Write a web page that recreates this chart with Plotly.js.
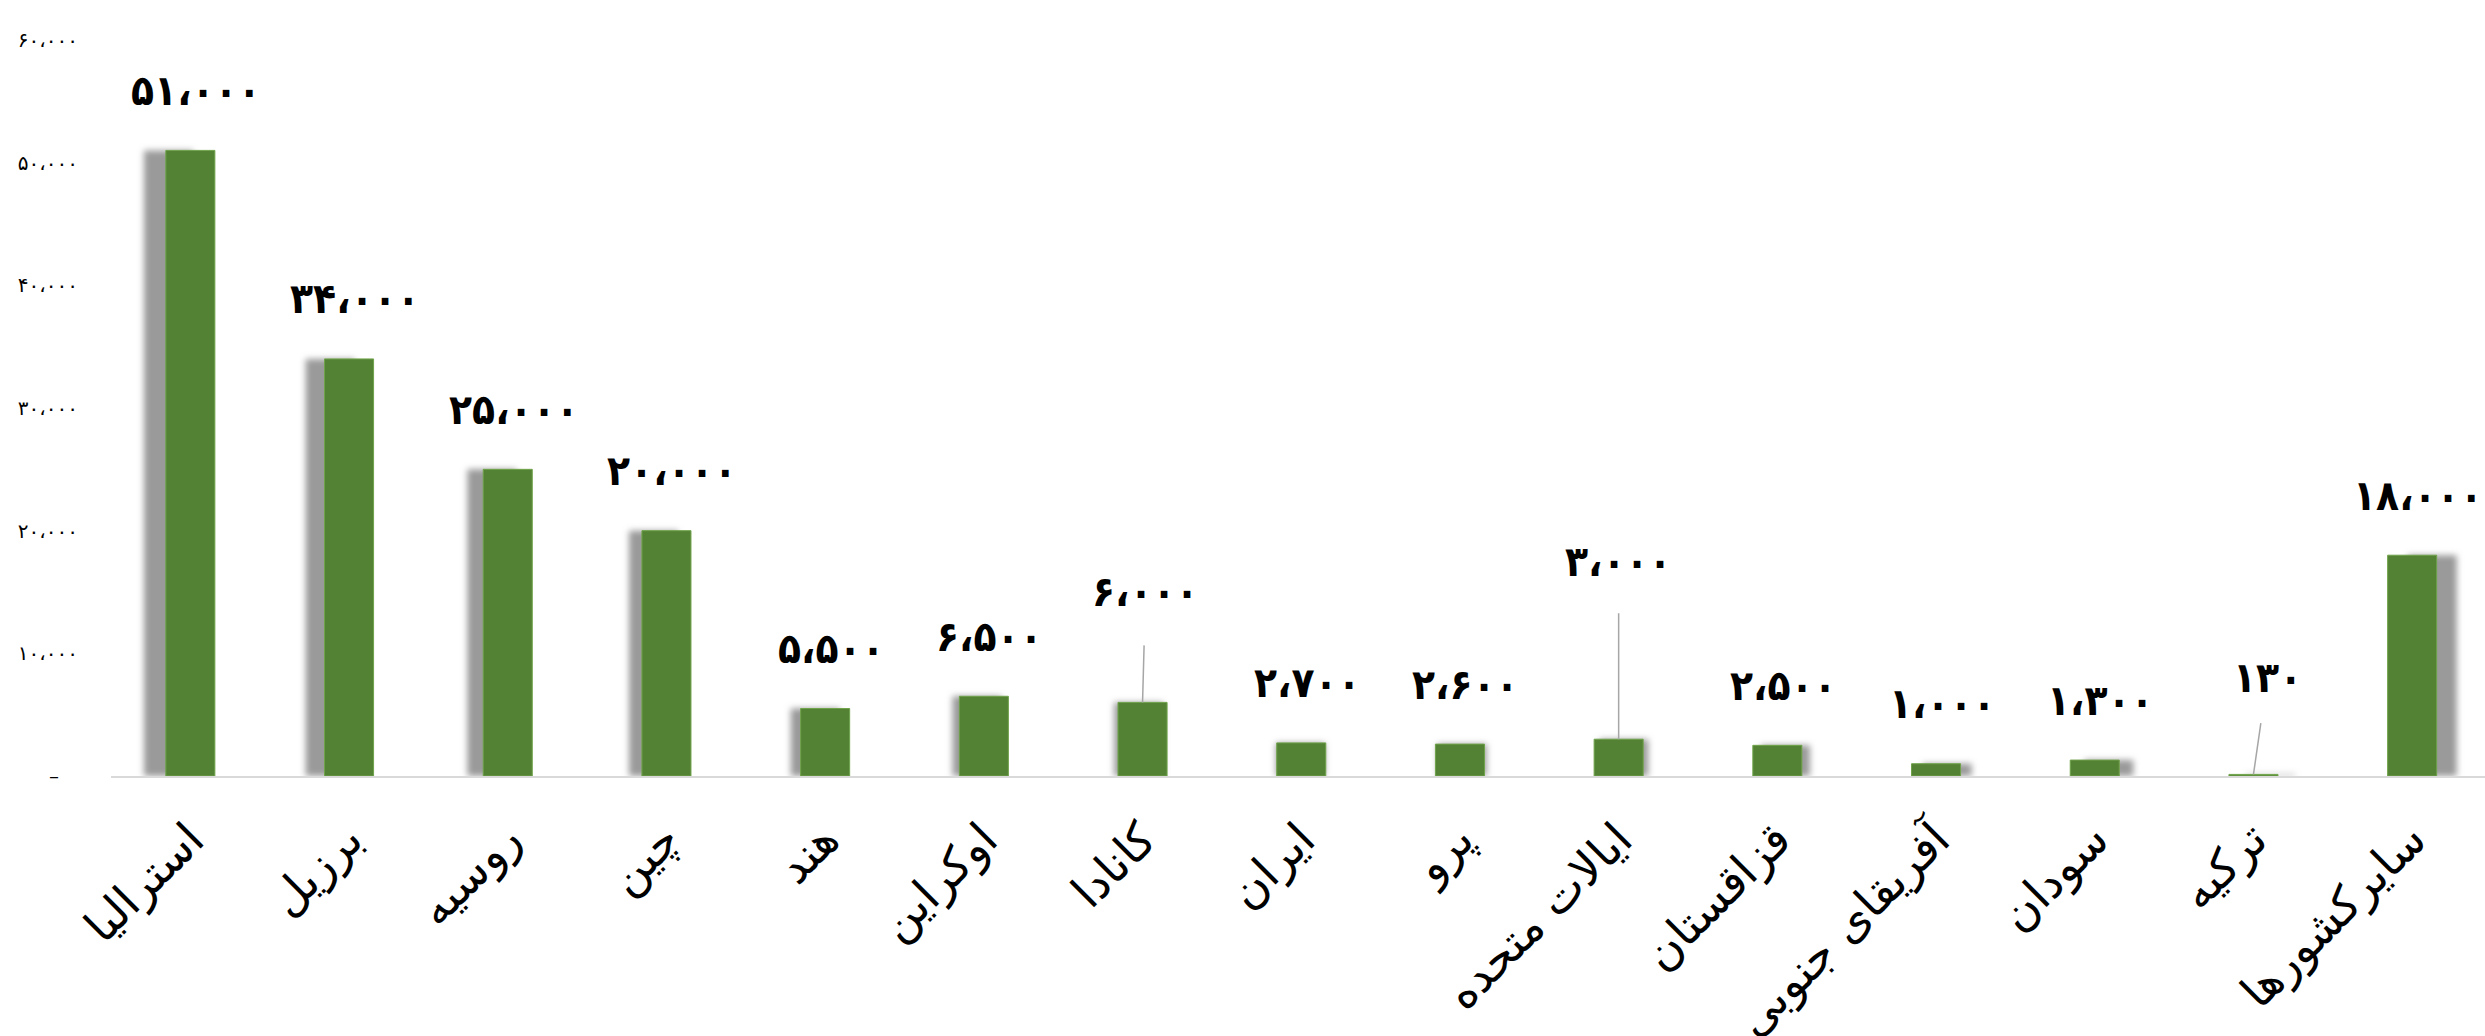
<!DOCTYPE html>
<html>
<head>
<meta charset="utf-8">
<script src="https://cdn.plot.ly/plotly-3.0.1.min.js"></script>
<style>
  html, body { margin: 0; padding: 0; background: #ffffff; }
  #chart { width: 2485px; height: 1036px; }
</style>
</head>
<body>
<div id="chart"></div>
<script>
// ---- data ----
const categories = ['استرالیا', 'برزیل', 'روسیه', 'چین', 'هند', 'اوکراین', 'کانادا', 'ایران', 'پرو', 'ایالات متحده', 'قزاقستان', 'آفریقای جنوبی', 'سودان', 'ترکیه', 'سایرکشورها'];
const values = [51000, 34000, 25000, 20000, 5500, 6500, 6000, 2700, 2600, 3000, 2500, 1000, 1300, 130, 18000];
const valueLabels = ['۵۱،۰۰۰', '۳۴،۰۰۰', '۲۵،۰۰۰', '۲۰،۰۰۰', '۵،۵۰۰', '۶،۵۰۰', '۶،۰۰۰', '۲،۷۰۰', '۲،۶۰۰', '۳،۰۰۰', '۲،۵۰۰', '۱،۰۰۰', '۱،۳۰۰', '۱۳۰', '۱۸،۰۰۰'];
const yTickVals = [0, 10000, 20000, 30000, 40000, 50000, 60000];
const yTickText = ['–\u00a0\u00a0\u00a0', '۱۰،۰۰۰', '۲۰،۰۰۰', '۳۰،۰۰۰', '۴۰،۰۰۰', '۵۰،۰۰۰', '۶۰،۰۰۰'];

// ---- styling ----
const PX_PER_CAT = 158.7;
const BAR_W = 0.309;
const shadowOffsets = categories.map((c, i) => -BAR_W / 2 + ((i - 7.3) * 3) / PX_PER_CAT);

// labels that were moved in the original and connected by leader lines
const leaders = {
  6: { ax: 3, ay: -111, ss: 28 },
  9: { ax: 0, ay: -178, ss: 26 },
  13: { ax: 14, ay: -97, ss: 20 }
};

const shadowTrace = {
  type: 'bar',
  x: categories,
  y: values,
  width: BAR_W,
  offset: shadowOffsets,
  marker: { color: '#9a9a9a' },
  hoverinfo: 'skip',
  showlegend: false
};

const barTrace = {
  type: 'bar',
  x: categories,
  y: values,
  width: BAR_W,
  marker: { color: '#548235', line: { color: '#6fa34a', width: 1 } },
  showlegend: false
};

const labelFont = { family: 'DejaVu Sans Condensed, DejaVu Sans', size: 42, color: '#000000', weight: 'bold' };

const annotations = categories.map((c, i) => {
  const L = leaders[i];
  if (L) {
    return {
      x: c, y: values[i], xref: 'x', yref: 'y',
      text: '<b>' + valueLabels[i] + '</b>',
      font: labelFont,
      showarrow: true, arrowhead: 0, arrowwidth: 1.5, arrowcolor: '#a6a6a6',
      ax: L.ax, ay: L.ay, startstandoff: L.ss, standoff: 0
    };
  }
  return {
    x: c, y: values[i], xref: 'x', yref: 'y',
    text: '<b>' + valueLabels[i] + '</b>',
    font: labelFont,
    showarrow: false,
    xanchor: 'center', yanchor: 'middle',
    xshift: 6, yshift: 60
  };
});

const layout = {
  width: 2485,
  height: 1036,
  margin: { l: 111, r: 0, t: 40, b: 260, pad: 0 },
  paper_bgcolor: '#ffffff',
  plot_bgcolor: '#ffffff',
  barmode: 'overlay',
  showlegend: false,
  font: { family: 'DejaVu Sans', color: '#000000' },
  xaxis: {
    type: 'category',
    range: [-0.5, 14.459],
    showgrid: false,
    zeroline: false,
    showline: true,
    linecolor: '#d9d9d9',
    linewidth: 2,
    ticks: '',
    tickangle: -45,
    tickfont: { family: 'DejaVu Sans', size: 46, color: '#000000' },
    ticklabelstandoff: 16,
    automargin: false
  },
  yaxis: {
    range: [0, 60000],
    showgrid: false,
    zeroline: false,
    showline: false,
    ticks: '',
    tickvals: yTickVals,
    ticktext: yTickText,
    tickfont: { family: 'DejaVu Sans', size: 20, color: '#000000' },
    ticklabelstandoff: 32,
    automargin: false
  },
  annotations: annotations
};

Plotly.newPlot('chart', [shadowTrace, barTrace], layout, { staticPlot: true }).then(function (gd) {
  const ns = 'http://www.w3.org/2000/svg';
  const svg = gd.querySelector('.main-svg');
  let defs = svg.querySelector('defs');
  if (!defs) { defs = document.createElementNS(ns, 'defs'); svg.insertBefore(defs, svg.firstChild); }
  const f = document.createElementNS(ns, 'filter');
  f.setAttribute('id', 'shadowBlur');
  f.setAttribute('x', '-20%'); f.setAttribute('y', '-20%');
  f.setAttribute('width', '140%'); f.setAttribute('height', '140%');
  const b = document.createElementNS(ns, 'feGaussianBlur');
  b.setAttribute('stdDeviation', '3');
  f.appendChild(b);
  defs.appendChild(f);
  const traces = gd.querySelectorAll('.barlayer .trace');
  if (traces.length) traces[0].setAttribute('filter', 'url(#shadowBlur)');
});
</script>
</body>
</html>
